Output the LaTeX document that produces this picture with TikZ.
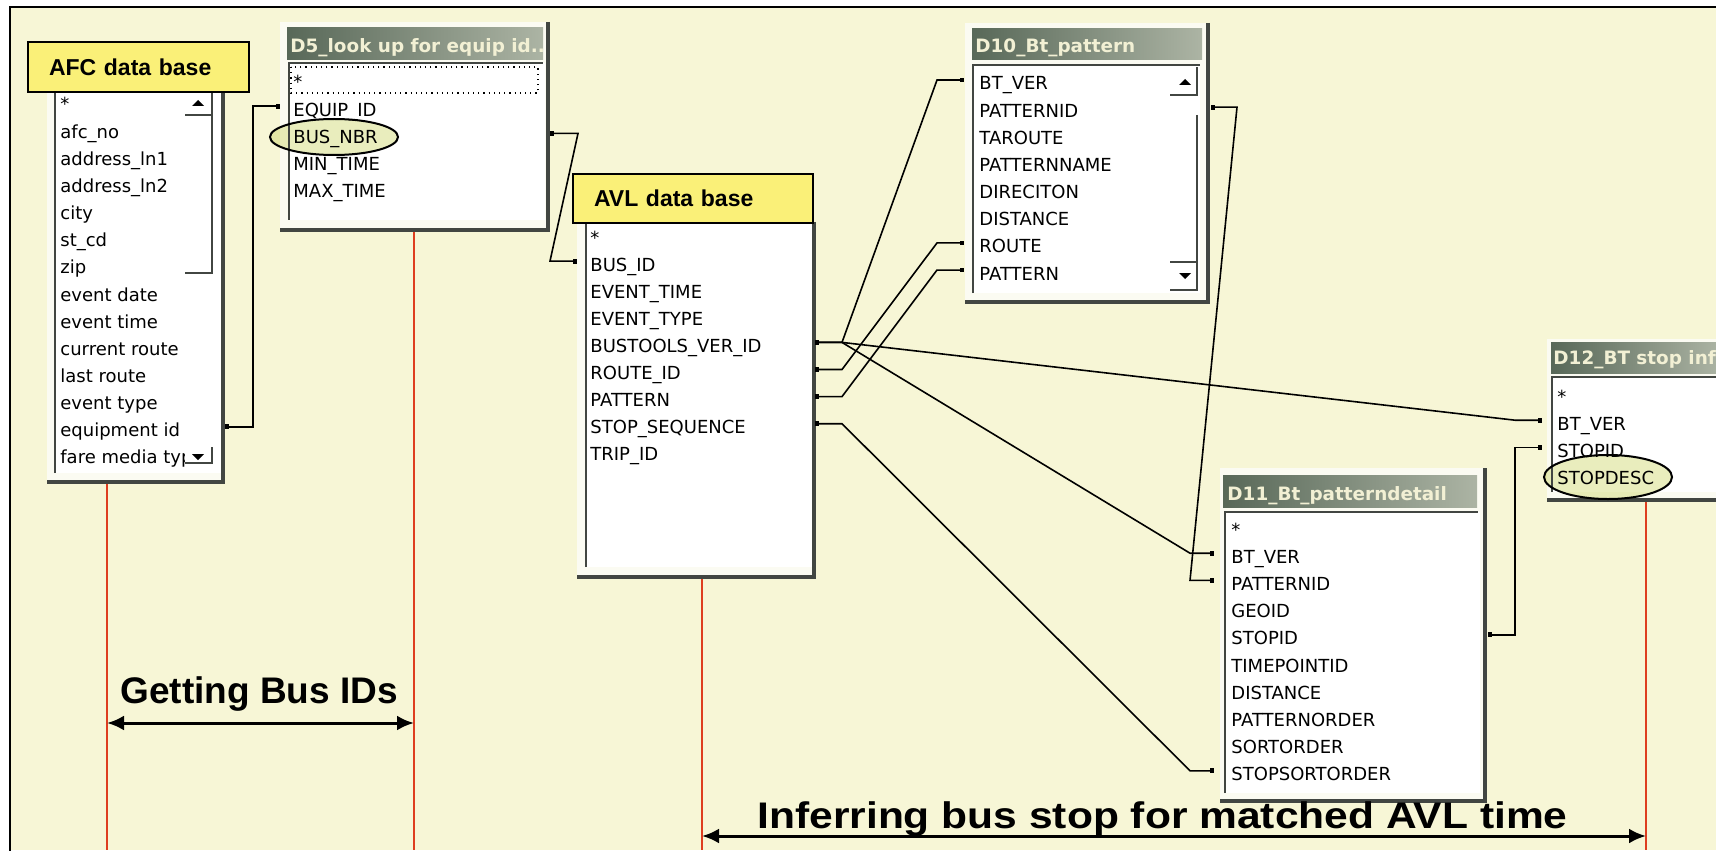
\documentclass[tikz,border=0pt]{standalone}
\usepackage{fontspec}
\usepackage{graphicx}
\setmainfont{DejaVu Sans}
\newfontfamily\tagfont{Liberation Sans}
\usetikzlibrary{arrows.meta}

\definecolor{paper}{RGB}{247,246,214}
\definecolor{winface}{RGB}{251,251,242}
\definecolor{tagyellow}{RGB}{250,240,120}
\definecolor{edgegray}{RGB}{66,70,66}
\definecolor{bardark}{RGB}{88,104,88}
\definecolor{barlight}{RGB}{172,180,164}
\definecolor{bartext}{RGB}{242,240,212}
\definecolor{lifered}{RGB}{222,62,32}
\definecolor{ringgreen}{RGB}{200,210,90}

\begin{document}
\begin{tikzpicture}[x=0.5pt,y=-0.5pt,
    row/.style={anchor=west,inner sep=0pt,text height=10pt,text depth=0pt,font=\fontsize{9}{10}\selectfont},
    bartitle/.style={anchor=west,inner sep=0pt,text height=7pt,text depth=0pt,text=bartext,font=\bfseries\fontsize{9.2}{10}\selectfont},
    dbtag/.style={draw=black,line width=1pt,fill=tagyellow,anchor=north west,inner xsep=10.5pt,inner ysep=0pt,align=left,font=\tagfont\bfseries\fontsize{11.5}{12}\selectfont},
    panel/.style={edgegray,line width=1pt},
    shadow/.style={edgegray,line width=1.6pt},
    scroll/.style={edgegray,line width=0.8pt},
    link/.style={line width=0.8pt,{Square[length=2pt,width=2.4pt]}-{Square[length=2pt,width=2.4pt]}},
    life/.style={lifered,line width=1pt},
    span/.style={line width=1.5pt,{Latex[length=8.5pt,width=7.5pt]}-{Latex[length=8.5pt,width=7.5pt]}},
    stage/.style={anchor=base west,inner sep=0pt,font=\tagfont\bfseries\fontsize{18.5}{20}\selectfont},
    ringfill/.style={fill=ringgreen,fill opacity=0.4},
    ring/.style={draw=black,line width=1pt}]

\useasboundingbox (0,0) rectangle (1716,850);
\fill[white] (0,0) rectangle (1716,850);
\fill[paper] (10,7) rectangle (1716,850);
\draw[line width=1pt] (10,860) -- (10,7) -- (1730,7);

% life lines under the tables
\draw[life] (107,482) -- (107,850);
\draw[life] (414,230) -- (414,850);
\draw[life] (702,577) -- (702,850);
\draw[life] (1646,500) -- (1646,850);

% AFC data base
\fill[winface] (47,91) rectangle (223,482);
\fill[white] (55,91) rectangle (221,473);
\foreach \t [count=\i from 0] in {*,afc\_no,address\_ln1,address\_ln2,city,st\_cd,zip,event date,event time,current route,last route,event type,equipment id,fare media typ}
    \node[row] (afc-\i) at (60,101+27.15*\i) {\t};
\fill[white] (185,447) rectangle (212,463);
\draw[scroll] (185,115) -- (212,115) (212,93) -- (212,273) -- (185,273);
\draw[scroll] (212,447) -- (212,463) -- (185,463);
\fill (192,106) -- (204,106) -- (198,100) -- cycle;
\fill (192,454) -- (204,454) -- (198,460) -- cycle;
\draw[panel] (55,473) -- (55,91);
\draw[shadow] (223,91) -- (223,482) -- (47,482);
\node[dbtag,text width=89.5pt,minimum height=25pt] (afc-tag) at (27,41) {AFC data base};

% D5
\fill[winface] (280,22) rectangle (548,230);
\fill[white] (289,63) rectangle (545,220);
\shade[left color=bardark,right color=barlight] (287,28) rectangle (543,60);
\node[bartitle] (d5-title) at (290,46) {D5\_look up for equip id..};
\fill[ringfill] (334,137) ellipse [x radius=64,y radius=18];
\foreach \t [count=\i from 0] in {*,EQUIP\_ID,BUS\_NBR,MIN\_TIME,MAX\_TIME}
    \node[row] (d5-\i) at (293,79+27.2*\i) {\t};
\draw[dotted,line width=0.6pt] (291,67) rectangle (538,93);
\draw[panel] (289,220) -- (289,63) -- (543,63);
\draw[shadow] (548,22) -- (548,230) -- (280,230);

% AVL data base
\fill[winface] (577,222) rectangle (814,577);
\fill[white] (586,222) rectangle (812,567);
\foreach \t [count=\i from 0] in {*,BUS\_ID,EVENT\_TIME,EVENT\_TYPE,BUSTOOLS\_VER\_ID,ROUTE\_ID,PATTERN,STOP\_SEQUENCE,TRIP\_ID}
    \node[row] (avl-\i) at (590,234+27.1*\i) {\t};
\draw[panel] (586,567) -- (586,222);
\draw[shadow] (814,222) -- (814,577) -- (577,577);
\node[dbtag,text width=99pt,minimum height=24.5pt] (avl-tag) at (572,173) {AVL data base};

% D10
\fill[winface] (965,23) rectangle (1208,302);
\fill[white] (973,65) rectangle (1200,293);
\shade[left color=bardark,right color=barlight] (972,29) rectangle (1202,60);
\node[bartitle] (d10-title) at (975,46) {D10\_Bt\_pattern};
\foreach \t [count=\i from 0] in {BT\_VER,PATTERNID,TAROUTE,PATTERNNAME,DIRECITON,DISTANCE,ROUTE,PATTERN}
    \node[row] (d10-\i) at (979,80+27.15*\i) {\t};
\draw[scroll] (1170,95) -- (1197,95) -- (1197,67);
\draw[scroll] (1197,115) -- (1197,290) -- (1170,290) (1170,262) -- (1197,262);
\fill (1179,85) -- (1191,85) -- (1185,79) -- cycle;
\fill (1179,273) -- (1191,273) -- (1185,279) -- cycle;
\draw[panel] (973,293) -- (973,65) -- (1200,65);
\draw[shadow] (1208,23) -- (1208,302) -- (965,302);

% D11
\fill[winface] (1220,468) rectangle (1485,801);
\fill[white] (1225,512) rectangle (1480,793);
\shade[left color=bardark,right color=barlight] (1223,475) rectangle (1477,507);
\node[bartitle] (d11-title) at (1227,493) {D11\_Bt\_patterndetail};
\foreach \t [count=\i from 0] in {*,BT\_VER,PATTERNID,GEOID,STOPID,TIMEPOINTID,DISTANCE,PATTERNORDER,SORTORDER,STOPSORTORDER}
    \node[row] (d11-\i) at (1231,526+27.2*\i) {\t};
\draw[panel] (1225,793) -- (1225,512) -- (1478,512);
\draw[shadow] (1485,468) -- (1485,801) -- (1220,801);

% D12
\fill[winface] (1547,339) rectangle (1720,500);
\fill[white] (1552,377) rectangle (1720,492);
\shade[left color=bardark,right color=barlight] (1551,342) rectangle (1720,373);
\node[bartitle] (d12-title) at (1553,357) {D12\_BT stop info};
\fill[ringfill] (1608,477) ellipse [x radius=64,y radius=22];
\foreach \t [count=\i from 0] in {*,BT\_VER,STOPID,STOPDESC}
    \node[row] (d12-\i) at (1557,393+27.2*\i) {\t};
\draw[panel] (1552,492) -- (1552,377) -- (1720,377);
\draw[shadow] (1547,500) -- (1720,500);

% circled key fields
\draw[ring] (334,137) ellipse [x radius=64,y radius=18];
\draw[ring] (1608,477) ellipse [x radius=64,y radius=22];

% table edges and link stubs
\coordinate (afc-e) at (225,0);   \coordinate (afc-es) at (253,0);
\coordinate (d5-w) at (280,0);    \coordinate (d5-ws) at (253,0);
\coordinate (d5-e) at (550,0);    \coordinate (d5-es) at (578,0);
\coordinate (avl-w) at (577,0);   \coordinate (avl-ws) at (550,0);
\coordinate (avl-e) at (815,0);   \coordinate (avl-es) at (842,0);
\coordinate (d10-w) at (964,0);   \coordinate (d10-ws) at (937,0);
\coordinate (d10-e) at (1211,0);  \coordinate (d10-es) at (1237,0);
\coordinate (d11-w) at (1214,0);  \coordinate (d11-ws) at (1190,0);
\coordinate (d11-e) at (1488,0);  \coordinate (d11-es) at (1515,0);
\coordinate (d12-w) at (1542,0);  \coordinate (d12-ws) at (1515,0);

% joins
\draw[link] (afc-12 -| afc-e) -- (afc-12 -| afc-es) -- (d5-1 -| d5-ws) -- (d5-1 -| d5-w);
\draw[link] (d5-2 -| d5-e) -- (d5-2 -| d5-es) -- (avl-1 -| avl-ws) -- (avl-1 -| avl-w);
\draw[link] (avl-4 -| avl-e) -- (avl-4 -| avl-es) -- (d10-0 -| d10-ws) -- (d10-0 -| d10-w);
\draw[link] (avl-5 -| avl-e) -- (avl-5 -| avl-es) -- (d10-6 -| d10-ws) -- (d10-6 -| d10-w);
\draw[link] (avl-6 -| avl-e) -- (avl-6 -| avl-es) -- (d10-7 -| d10-ws) -- (d10-7 -| d10-w);
\draw[link] (avl-4 -| avl-e) -- (avl-4 -| avl-es) -- (d11-1 -| d11-ws) -- (d11-1 -| d11-w);
\draw[link] (avl-4 -| avl-e) -- (avl-4 -| avl-es) -- (d12-1 -| d12-ws) -- (d12-1 -| d12-w);
\draw[link] (avl-7 -| avl-e) -- (avl-7 -| avl-es) -- (d11-9 -| d11-ws) -- (d11-9 -| d11-w);
\draw[link] (d10-1 -| d10-e) -- (d10-1 -| d10-es) -- (d11-2 -| d11-ws) -- (d11-2 -| d11-w);
\draw[link] (d11-4 -| d11-e) -- (d11-4 -| d11-es) -- (d12-2 -| d12-ws) -- (d12-2 -| d12-w);

% stages
\coordinate (bus-l) at (107,723);
\coordinate (bus-r) at (414,723);
\coordinate (infer-l) at (702,836);
\coordinate (infer-r) at (1646,836);
\draw[span] (bus-l) -- (bus-r);
\draw[span] (infer-l) -- (infer-r);
\node[stage] (bus-text) at (120,703) {Getting Bus IDs};
\node[stage] (infer-text) at (757,828) {\scalebox{1.15}[1]{Inferring bus stop for matched AVL time}};
\end{tikzpicture}
\end{document}
